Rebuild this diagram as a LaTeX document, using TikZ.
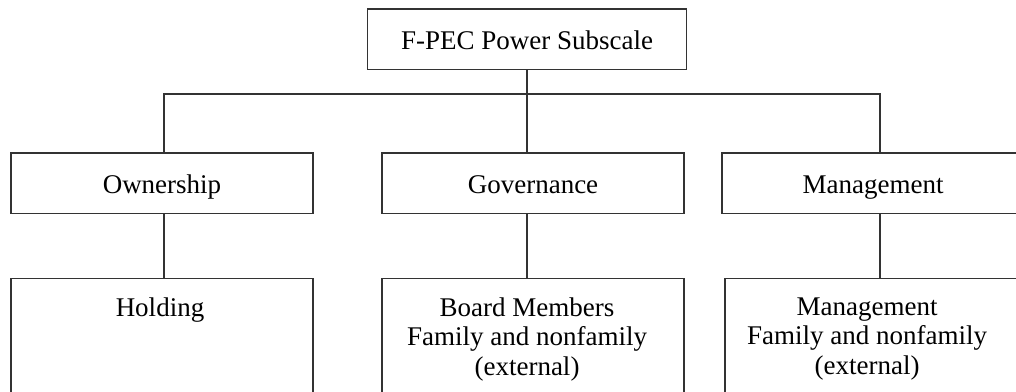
\documentclass[tikz,border=0pt]{standalone}
\usepackage{fontspec}
\setmainfont{Liberation Serif}
\begin{document}
\begin{tikzpicture}[x=1pt, y=1pt,
  box/.style={draw=black!80, line width=1.3pt, minimum width=302pt, minimum height=60.5pt, inner sep=0pt, font=\fontsize{27}{29.5}\selectfont, text height=20pt, text depth=0pt},
  tall/.style={box, anchor=north, minimum height=160pt},
  lbl/.style={anchor=north, inner sep=0pt, yshift=-20pt, align=center, font=\fontsize{27}{29.5}\selectfont},
  link/.style={draw=black!80, line width=1.3pt}]
\useasboundingbox (0,0) rectangle (1016,391);
\clip (0,0) rectangle (1016,391);
\node[box, minimum width=318.5pt] (top) at (527,351.75) {F-PEC Power Subscale};
\node[box] (own) at (162,207.75) {Ownership};
\node[box] (gov) at (533,207.75) {Governance};
\node[box] (man) at (873,207.75) {Management};
\node[tall, label={[lbl, xshift=-2pt]north:Holding}] (hold) at (162,113.5) {};
\node[tall, label={[lbl, xshift=-6pt]north:Board Members\\Family and nonfamily\\(external)}] (board) at (533,113.5) {};
\node[tall, label={[lbl, xshift=-9pt]north:Management\\Family and nonfamily\\(external)}] (manb) at (876,113.5) {};
\coordinate (jo) at (164,297);
\coordinate (jg) at (527,297);
\coordinate (jm) at (880,297);
\draw[link] (top) -- (jg);
\draw[link] (jo |- own.north) -- (jo) -- (jm) -- (jm |- man.north);
\draw[link] (jg) -- (jg |- gov.north);
\draw[link] (own.south -| jo) -- (jo |- hold.north);
\draw[link] (gov.south -| jg) -- (jg |- board.north);
\draw[link] (man.south -| jm) -- (jm |- manb.north);
\end{tikzpicture}
\end{document}
